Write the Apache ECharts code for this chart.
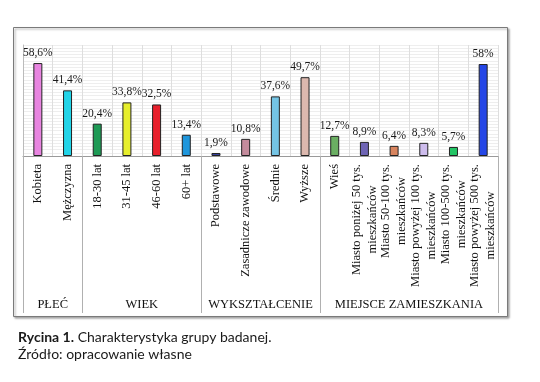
<!DOCTYPE html>
<html><head><meta charset="utf-8">
<script src="https://cdn.jsdelivr.net/npm/echarts@6/dist/echarts.min.js"></script>
<style>html,body{margin:0;padding:0;background:#fff}#c{width:540px;height:382px}</style>
</head><body><div id="c"></div>
<script>
const categories = ['Kobieta','Mężczyzna','18-30 lat','31-45 lat','46-60 lat','60+ lat','Podstawowe','Zasadnicze zawodowe','Średnie','Wyższe','Wieś','Miasto poniżej 50 tys.\nmieszkańców','Miasto 50-100 tys.\nmieszkańców','Miasto powyżej 100 tys.\nmieszkańców','Miasto 100-500 tys.\nmieszkańców','Miasto powyżej 500 tys.\nmieszkańców'];
const values = [58.6,41.4,20.4,33.8,32.5,13.4,1.9,10.8,37.6,49.7,12.7,8.9,6.4,8.3,5.7,58];
const groups = ['PŁEĆ','WIEK','WYKSZTAŁCENIE','MIEJSCE ZAMIESZKANIA'];
const groupSizes = [2,4,4,6];
const barColors = ['#E884E0','#22D4E8','#1E9A55','#E6EE2C','#E8202C','#1E96DC','#3A44A0','#C48B9C','#74C4E4','#DCB8AE','#6AAE62','#6E64B4','#D8845E','#CDBCEC','#22C464','#2446E6'];

const bounds = [0]; const centers = [];
groupSizes.forEach(s => { const a = bounds[bounds.length-1]; centers.push(a + s/2); bounds.push(a + s); });
const total = bounds[bounds.length-1];

const serif = 'Liberation Serif';
const chart = echarts.init(document.getElementById('c'), null, {renderer:'canvas'});
chart.setOption({
  animation: false,
  backgroundColor: '#fff',
  title: {
    left: 13, top: 324,
    text: '{b|Rycina 1.}{n| Charakterystyka grupy badanej.}\n{n|Źródło: opracowanie własne}',
    textStyle: {
      fontWeight: 'normal',
      rich: {
        b: {fontFamily: 'Lato', fontWeight: 'bold', fontSize: 14, color: '#1a1a1a', lineHeight: 17},
        n: {fontFamily: 'Lato', fontWeight: 'normal', fontSize: 14, color: '#1a1a1a', lineHeight: 17}
      }
    }
  },
  graphic: [{
    type: 'rect', left: 13, top: 27, z: -1,
    shape: {width: 494, height: 289},
    style: {fill: '#fff', stroke: '#7a7a7a', lineWidth: 1, shadowColor: 'rgba(0,0,0,0.35)', shadowOffsetX: 1.5, shadowOffsetY: 1.5, shadowBlur: 2}
  }],
  grid: [
    {left: 23, right: 42, top: 45, height: 111},
    {left: 23, right: 42, top: 156, height: 157}
  ],
  xAxis: [{
    gridIndex: 0, type: 'category', data: categories,
    axisLine: {lineStyle: {color: '#9a9a9a'}},
    axisTick: {show: false},
    splitLine: {show: true, lineStyle: {color: '#dedede'}},
    axisLabel: {
      interval: 0, rotate: 90, margin: 8,
      fontFamily: serif, fontSize: 12.5, color: '#111',
      formatter: v => v.split('\n').map(s => '{c|' + s + '}').join('\n'),
      rich: {c: {fontFamily: serif, fontSize: 12.5, color: '#111', align: 'center', lineHeight: 16}}
    }
  }, {
    gridIndex: 1, type: 'value', min: 0, max: total, position: 'bottom',
    axisLine: {show: false},
    splitLine: {show: false},
    axisTick: {show: true, inside: true, length: 157, customValues: bounds, lineStyle: {color: '#b0b0b0'}},
    axisLabel: {
      customValues: centers, margin: -15,
      fontFamily: serif, fontSize: 12.5, color: '#111',
      formatter: v => groups[centers.indexOf(v)] || ''
    }
  }],
  yAxis: [{
    gridIndex: 0, type: 'value', min: 0, max: 70, interval: 2,
    axisLabel: {show: false}, axisTick: {show: false},
    axisLine: {show: true, lineStyle: {color: '#bbb'}},
    splitLine: {lineStyle: {color: '#eeeeee'}}
  }, {
    gridIndex: 1, type: 'value', min: 0, max: 1, show: false
  }],
  series: [{
    type: 'bar', xAxisIndex: 0, yAxisIndex: 0, barWidth: 9,
    data: values.map((v, i) => ({value: v, itemStyle: {color: barColors[i]}})),
    itemStyle: {borderColor: '#222', borderWidth: 1},
    label: {
      show: true, position: 'top', distance: 4,
      fontFamily: serif, fontSize: 11.5, color: '#1a1a1a',
      formatter: p => String(p.value).replace('.', ',') + '%'
    }
  }]
});
</script></body></html>
